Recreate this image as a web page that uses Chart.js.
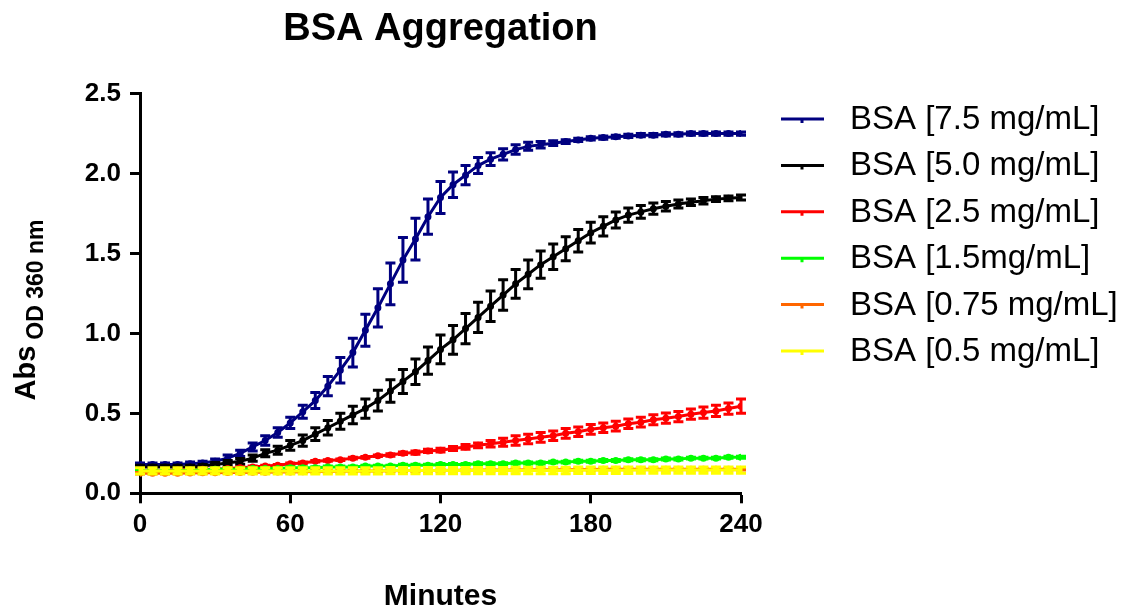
<!DOCTYPE html>
<html>
<head>
<meta charset="utf-8">
<script src="https://cdn.jsdelivr.net/npm/chart.js@4.4.1/dist/chart.umd.min.js"></script>
<style>
  body { margin: 0; background: #fff; }
  #wrap { width: 1127px; height: 612px; }
</style>
</head>
<body>
<div id="wrap"><canvas id="bsaChart" width="1127" height="612"></canvas></div>
<script>
// === DATA ===
const minutes = [0, 5, 10, 15, 20, 25, 30, 35, 40, 45, 50, 55, 60, 65, 70, 75, 80, 85, 90, 95,
  100, 105, 110, 115, 120, 125, 130, 135, 140, 145, 150, 155, 160, 165, 170, 175, 180, 185, 190, 195,
  200, 205, 210, 215, 220, 225, 230, 235, 240];

const seriesNames = ['BSA [7.5 mg/mL]', 'BSA [5.0 mg/mL]', 'BSA [2.5 mg/mL]',
  'BSA [1.5mg/mL]', 'BSA [0.75 mg/mL]', 'BSA [0.5 mg/mL]'];
const seriesColors = ['#000080', '#000000', '#ff0000', '#00ff00', '#ff6600', '#ffff00'];

const bsa75 = [0.18, 0.18, 0.18, 0.18, 0.185, 0.19, 0.20, 0.22, 0.25, 0.29,
  0.33, 0.38, 0.44, 0.51, 0.58, 0.67, 0.77, 0.88, 1.02, 1.16,
  1.31, 1.46, 1.59, 1.73, 1.85, 1.93, 1.99, 2.05, 2.09, 2.12,
  2.15, 2.17, 2.18, 2.19, 2.20, 2.21, 2.22, 2.225, 2.23, 2.235,
  2.24, 2.24, 2.245, 2.245, 2.25, 2.25, 2.25, 2.25, 2.25];
const bsa75Err = [0.01, 0.01, 0.01, 0.01, 0.01, 0.01, 0.015, 0.02, 0.02, 0.025,
  0.03, 0.03, 0.035, 0.04, 0.05, 0.06, 0.08, 0.09, 0.10, 0.12,
  0.13, 0.14, 0.13, 0.11, 0.10, 0.08, 0.06, 0.05, 0.04, 0.035,
  0.03, 0.025, 0.02, 0.015, 0.012, 0.01, 0.01, 0.01, 0.01, 0.01,
  0.01, 0.01, 0.01, 0.01, 0.01, 0.01, 0.01, 0.01, 0.01];

const bsa50 = [0.165, 0.165, 0.165, 0.165, 0.165, 0.17, 0.18, 0.19, 0.20, 0.22,
  0.25, 0.27, 0.30, 0.33, 0.37, 0.41, 0.45, 0.49, 0.53, 0.58,
  0.64, 0.70, 0.76, 0.83, 0.90, 0.96, 1.03, 1.10, 1.17, 1.24,
  1.31, 1.37, 1.43, 1.48, 1.53, 1.58, 1.63, 1.67, 1.71, 1.74,
  1.76, 1.78, 1.795, 1.81, 1.82, 1.83, 1.84, 1.845, 1.85];
const bsa50Err = [0.01, 0.01, 0.01, 0.01, 0.01, 0.01, 0.012, 0.015, 0.018, 0.02,
  0.022, 0.025, 0.03, 0.035, 0.04, 0.045, 0.05, 0.055, 0.06, 0.065,
  0.07, 0.075, 0.08, 0.085, 0.09, 0.09, 0.095, 0.095, 0.095, 0.095,
  0.09, 0.09, 0.085, 0.08, 0.075, 0.07, 0.065, 0.06, 0.05, 0.045,
  0.04, 0.035, 0.03, 0.025, 0.02, 0.02, 0.015, 0.015, 0.015];

const bsa25 = [0.14, 0.14, 0.14, 0.145, 0.145, 0.15, 0.15, 0.155, 0.16, 0.165,
  0.17, 0.175, 0.185, 0.19, 0.20, 0.205, 0.21, 0.22, 0.225, 0.235,
  0.24, 0.25, 0.255, 0.265, 0.27, 0.28, 0.29, 0.30, 0.31, 0.32,
  0.33, 0.34, 0.35, 0.36, 0.375, 0.385, 0.40, 0.41, 0.42, 0.435,
  0.445, 0.46, 0.47, 0.48, 0.495, 0.505, 0.515, 0.53, 0.545];
const bsa25Err = [0.005, 0.005, 0.005, 0.005, 0.005, 0.005, 0.005, 0.005, 0.005, 0.005,
  0.005, 0.005, 0.005, 0.005, 0.005, 0.005, 0.005, 0.005, 0.005, 0.005,
  0.008, 0.008, 0.01, 0.01, 0.012, 0.012, 0.015, 0.015, 0.02, 0.025,
  0.03, 0.03, 0.03, 0.03, 0.03, 0.03, 0.03, 0.03, 0.03, 0.03,
  0.03, 0.032, 0.032, 0.032, 0.032, 0.035, 0.035, 0.035, 0.045];

const bsa15 = [0.14, 0.14, 0.14, 0.14, 0.145, 0.145, 0.15, 0.15, 0.15, 0.155,
  0.155, 0.155, 0.16, 0.16, 0.16, 0.165, 0.165, 0.165, 0.17, 0.17,
  0.17, 0.175, 0.175, 0.175, 0.18, 0.18, 0.18, 0.185, 0.185, 0.185,
  0.19, 0.19, 0.19, 0.195, 0.195, 0.20, 0.20, 0.205, 0.205, 0.21,
  0.21, 0.21, 0.215, 0.215, 0.22, 0.22, 0.22, 0.225, 0.225];
const bsa15Err = [0.006, 0.006, 0.006, 0.006, 0.006, 0.006, 0.006, 0.006, 0.006, 0.006,
  0.006, 0.006, 0.006, 0.006, 0.006, 0.006, 0.006, 0.006, 0.006, 0.006,
  0.006, 0.006, 0.006, 0.006, 0.006, 0.006, 0.006, 0.006, 0.006, 0.006,
  0.006, 0.006, 0.006, 0.006, 0.006, 0.006, 0.006, 0.006, 0.006, 0.006,
  0.006, 0.006, 0.006, 0.006, 0.006, 0.006, 0.006, 0.006, 0.006];

const bsa075 = [0.125, 0.125, 0.125, 0.126, 0.127, 0.128, 0.129, 0.13, 0.13, 0.131,
  0.132, 0.133, 0.134, 0.135, 0.136, 0.137, 0.138, 0.139, 0.14, 0.14,
  0.141, 0.142, 0.142, 0.143, 0.143, 0.144, 0.144, 0.145, 0.145, 0.146,
  0.146, 0.147, 0.147, 0.148, 0.148, 0.149, 0.149, 0.15, 0.15, 0.15,
  0.15, 0.15, 0.15, 0.15, 0.15, 0.15, 0.15, 0.15, 0.15];
const bsa075Err = [0.005, 0.005, 0.005, 0.005, 0.005, 0.005, 0.005, 0.005, 0.005, 0.005,
  0.005, 0.005, 0.005, 0.005, 0.005, 0.005, 0.005, 0.005, 0.005, 0.005,
  0.005, 0.005, 0.005, 0.005, 0.005, 0.005, 0.005, 0.005, 0.005, 0.005,
  0.005, 0.005, 0.005, 0.005, 0.005, 0.005, 0.005, 0.005, 0.005, 0.005,
  0.005, 0.005, 0.005, 0.005, 0.005, 0.005, 0.005, 0.005, 0.005];

const bsa05 = [0.14, 0.14, 0.14, 0.14, 0.14, 0.14, 0.14, 0.14, 0.14, 0.14,
  0.14, 0.14, 0.14, 0.14, 0.14, 0.14, 0.14, 0.14, 0.14, 0.14,
  0.142, 0.142, 0.142, 0.142, 0.142, 0.142, 0.142, 0.142, 0.142, 0.142,
  0.143, 0.143, 0.143, 0.143, 0.143, 0.144, 0.144, 0.144, 0.144, 0.144,
  0.145, 0.145, 0.145, 0.145, 0.145, 0.145, 0.145, 0.145, 0.145];
const bsa05Err = [0.02, 0.02, 0.02, 0.02, 0.02, 0.02, 0.02, 0.02, 0.02, 0.02,
  0.02, 0.02, 0.02, 0.02, 0.02, 0.02, 0.02, 0.02, 0.02, 0.02,
  0.02, 0.02, 0.02, 0.02, 0.02, 0.02, 0.02, 0.02, 0.02, 0.02,
  0.02, 0.02, 0.02, 0.02, 0.02, 0.02, 0.02, 0.02, 0.02, 0.02,
  0.02, 0.02, 0.02, 0.02, 0.02, 0.02, 0.02, 0.02, 0.02];

const seriesValues = [bsa75, bsa50, bsa25, bsa15, bsa075, bsa05];
const seriesErrors = [bsa75Err, bsa50Err, bsa25Err, bsa15Err, bsa075Err, bsa05Err];

const xTicks = [0, 60, 120, 180, 240];
const yTicks = [0, 0.5, 1.0, 1.5, 2.0, 2.5];

const FONT = '"Liberation Sans", Arial, sans-serif';

// === ПЛАГИН: ПЛАНКИ ПОГРЕШНОСТЕЙ ===
const errorBars = {
  id: 'errorBars',
  afterDatasetDraw(chart, args) {
    const ds = chart.data.datasets[args.index];
    if (!ds.errors) return;
    const { ctx, scales: { x, y } } = chart;
    ctx.save();
    ctx.strokeStyle = ds.borderColor;
    ctx.lineWidth = 3;
    ds.data.forEach((p, i) => {
      const e = ds.errors[i];
      const px = x.getPixelForValue(p.x);
      const top = y.getPixelForValue(p.y + e);
      const bot = y.getPixelForValue(p.y - e);
      ctx.beginPath();
      ctx.moveTo(px, top); ctx.lineTo(px, bot);
      ctx.moveTo(px - 5, top); ctx.lineTo(px + 5, top);
      ctx.moveTo(px - 5, bot); ctx.lineTo(px + 5, bot);
      ctx.stroke();
    });
    ctx.restore();
  }
};

// === ПЛАГИН: ПОДПИСЬ ОСИ Y И ЛЕГЕНДА ===
const extras = {
  id: 'extras',
  afterDraw(chart) {
    const ctx = chart.ctx;
    ctx.save();
    // подпись оси Y: Abs с нижним индексом
    ctx.fillStyle = '#000';
    ctx.textBaseline = 'alphabetic';
    ctx.textAlign = 'left';
    ctx.font = 'bold 29px ' + FONT;
    const wMain = ctx.measureText('Abs').width;
    ctx.font = 'bold 23px ' + FONT;
    const wSub = ctx.measureText('OD 360 nm').width;
    const total = wMain + 6 + wSub;
    ctx.translate(35, 310 + total / 2);
    ctx.rotate(-Math.PI / 2);
    ctx.font = 'bold 29px ' + FONT;
    ctx.fillText('Abs', 0, 0);
    ctx.font = 'bold 23px ' + FONT;
    ctx.fillText('OD 360 nm', wMain + 6, 8);
    ctx.restore();

    // легенда
    ctx.save();
    chart.data.datasets.forEach((ds, i) => {
      const yy = 119 + 46.4 * i;
      ctx.strokeStyle = ds.borderColor;
      ctx.lineWidth = 3;
      ctx.beginPath();
      ctx.moveTo(781, yy); ctx.lineTo(824, yy);
      ctx.moveTo(802, yy); ctx.lineTo(802, yy + 4);
      ctx.stroke();
      ctx.fillStyle = '#000';
      ctx.font = '33px ' + FONT;
      ctx.textBaseline = 'middle';
      ctx.textAlign = 'left';
      ctx.fillText(ds.label, 850, yy + 1);
    });
    ctx.restore();
  }
};

// === ГРАФИК ===
const datasets = seriesNames.map((name, i) => ({
  label: name,
  data: minutes.map((t, k) => ({ x: t, y: seriesValues[i][k] })),
  errors: seriesErrors[i],
  borderColor: seriesColors[i],
  backgroundColor: seriesColors[i],
  borderWidth: 3,
  pointRadius: 2,
  pointHoverRadius: 2,
  tension: 0,
  fill: false,
  order: seriesNames.length - 1 - i
}));

new Chart(document.getElementById('bsaChart'), {
  type: 'line',
  data: { datasets },
  plugins: [errorBars, extras],
  options: {
    responsive: false,
    animation: false,
    layout: { padding: { left: 0, right: 386, top: 0, bottom: 0 } },
    plugins: {
      legend: { display: false },
      tooltip: { enabled: false },
      title: {
        display: true,
        text: 'BSA Aggregation',
        color: '#000',
        fullSize: false,
        font: { family: FONT, size: 38, weight: 'bold' },
        padding: { top: 7, bottom: 41 }
      }
    },
    scales: {
      x: {
        type: 'linear',
        min: 0,
        max: 240,
        afterBuildTicks: s => { s.ticks = xTicks.map(v => ({ value: v })); },
        afterFit: s => { s.height = 118.7; },
        border: { display: true, color: '#000', width: 3 },
        grid: { drawOnChartArea: false, drawTicks: true, tickLength: 10, tickWidth: 3, tickColor: '#000' },
        ticks: { color: '#000', padding: 6, font: { family: FONT, size: 26, weight: 'bold' } },
        title: {
          display: true,
          text: 'Minutes',
          color: '#000',
          font: { family: FONT, size: 30, weight: 'bold', lineHeight: 1 },
          padding: { top: 0, bottom: 0 }
        }
      },
      y: {
        min: 0,
        max: 2.5,
        afterBuildTicks: s => { s.ticks = yTicks.map(v => ({ value: v })); },
        afterFit: s => { s.width = 140; },
        border: { display: true, color: '#000', width: 3 },
        grid: { drawOnChartArea: false, drawTicks: true, tickLength: 10, tickWidth: 3, tickColor: '#000' },
        ticks: {
          color: '#000',
          padding: 9,
          font: { family: FONT, size: 26, weight: 'bold' },
          callback: v => v.toFixed(1)
        }
      }
    }
  }
});
</script>
</body>
</html>
